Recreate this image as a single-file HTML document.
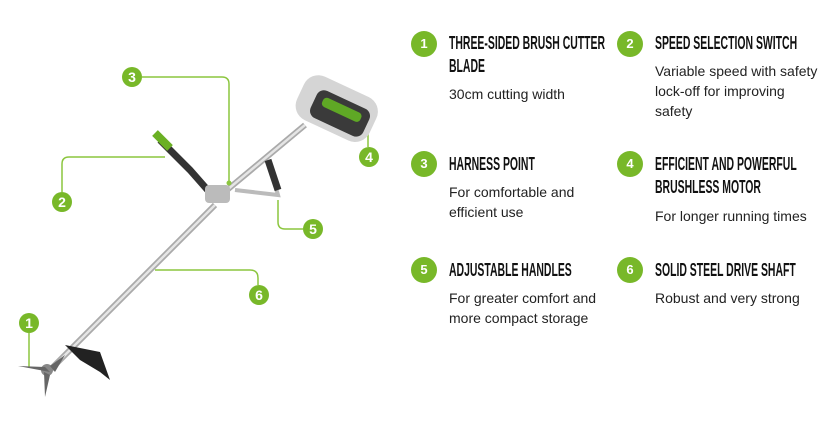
<!DOCTYPE html>
<html><head><meta charset="utf-8"><style>
body{margin:0;width:837px;height:438px;background:#fff;position:relative;overflow:hidden;font-family:"Liberation Sans",sans-serif}
.c{position:absolute;width:26px;height:26px;border-radius:50%;background:#78b829;color:#fff;font:bold 13px/26px "Liberation Sans",sans-serif;text-align:center}
.h{position:absolute;font-family:"Liberation Sans Narrow","Liberation Sans",sans-serif;font-weight:bold;font-size:18px;line-height:23px;color:#111;transform:scaleX(0.58);transform-origin:left top;white-space:nowrap}
.b{position:absolute;font-size:14px;line-height:20px;color:#222}
</style></head><body>
<svg width="400" height="438" style="position:absolute;left:0;top:0">
<g fill="none" stroke="#8cc63f" stroke-width="1.5">
<path d="M142 77 H222 Q229 77 229 84 V183"/>
<path d="M337 98 H360 Q368 98 368 106 V147"/>
<path d="M62 192 V164 Q62 157 69 157 H165"/>
<path d="M278 200 V222 Q278 229 285 229 H303"/>
<path d="M155 270 H250 Q258 270 258 278 V285"/>
<path d="M29 333 V368"/>
</g>
<line x1="50" y1="370" x2="215" y2="205" stroke="#aaa" stroke-width="6"/>
<line x1="50" y1="370" x2="215" y2="205" stroke="#e5e5e5" stroke-width="2.5"/>
<line x1="215" y1="200" x2="305" y2="125" stroke="#aaa" stroke-width="6"/>
<line x1="215" y1="200" x2="305" y2="125" stroke="#e5e5e5" stroke-width="2.5"/>
<path d="M160 140 L190 170 L212 195" stroke="#333" stroke-width="7" fill="none"/>
<path d="M155 133 L170 148" stroke="#6ab023" stroke-width="8"/>
<path d="M235 190 L278 195 L268 160" stroke="#bbb" stroke-width="4" fill="none"/>
<path d="M268 160 L278 190" stroke="#333" stroke-width="7"/>
<rect x="205" y="185" width="25" height="18" rx="4" fill="#bbb"/>
<circle cx="229" cy="183" r="2.5" fill="#8cc63f"/>
<g transform="rotate(25 335 110)">
<rect x="296" y="84" width="80" height="48" rx="16" fill="#d5d5d5"/>
<rect x="312" y="96" width="58" height="30" rx="8" fill="#3a3a3a"/>
<rect x="320" y="102" width="42" height="10" rx="4" fill="#5fa825"/>
</g>
<path d="M65 345 L100 352 L110 380 L100 372 L80 360 Z" fill="#222"/>
<circle cx="47" cy="370" r="6" fill="#888"/>
<path d="M18 366 L45 367 L50 372 Z" fill="#666"/>
<path d="M44 372 L50 375 L45 397 Z" fill="#666"/>
<path d="M50 366 L65 355 L55 372 Z" fill="#666"/>
<g font-family="Liberation Sans Narrow,Liberation Sans,sans-serif" font-weight="bold" font-size="14" fill="#fff" text-anchor="middle">
<circle cx="132" cy="77" r="10" fill="#78b829"/><text x="132" y="82">3</text>
<circle cx="369" cy="157" r="10" fill="#78b829"/><text x="369" y="162">4</text>
<circle cx="62" cy="202" r="10" fill="#78b829"/><text x="62" y="207">2</text>
<circle cx="313" cy="229" r="10" fill="#78b829"/><text x="313" y="234">5</text>
<circle cx="259" cy="295" r="10" fill="#78b829"/><text x="259" y="300">6</text>
<circle cx="29" cy="323" r="10" fill="#78b829"/><text x="29" y="328">1</text>
</g>
</svg>

<div class="c" style="left:411px;top:31px">1</div>
<div class="h" style="left:449px;top:32px">THREE-SIDED BRUSH CUTTER<br>BLADE</div>
<div class="b" style="left:449px;top:84px">30cm cutting width</div>

<div class="c" style="left:617px;top:31px">2</div>
<div class="h" style="left:655px;top:32px">SPEED SELECTION SWITCH</div>
<div class="b" style="left:655px;top:61px">Variable speed with safety<br>lock-off for improving<br>safety</div>

<div class="c" style="left:411px;top:151px">3</div>
<div class="h" style="left:449px;top:153px">HARNESS POINT</div>
<div class="b" style="left:449px;top:182px">For comfortable and<br>efficient use</div>

<div class="c" style="left:617px;top:151px">4</div>
<div class="h" style="left:655px;top:153px">EFFICIENT AND POWERFUL<br>BRUSHLESS MOTOR</div>
<div class="b" style="left:655px;top:206px">For longer running times</div>

<div class="c" style="left:411px;top:257px">5</div>
<div class="h" style="left:449px;top:259px">ADJUSTABLE HANDLES</div>
<div class="b" style="left:449px;top:288px">For greater comfort and<br>more compact storage</div>

<div class="c" style="left:617px;top:257px">6</div>
<div class="h" style="left:655px;top:259px">SOLID STEEL DRIVE SHAFT</div>
<div class="b" style="left:655px;top:288px">Robust and very strong</div>
</body></html>
